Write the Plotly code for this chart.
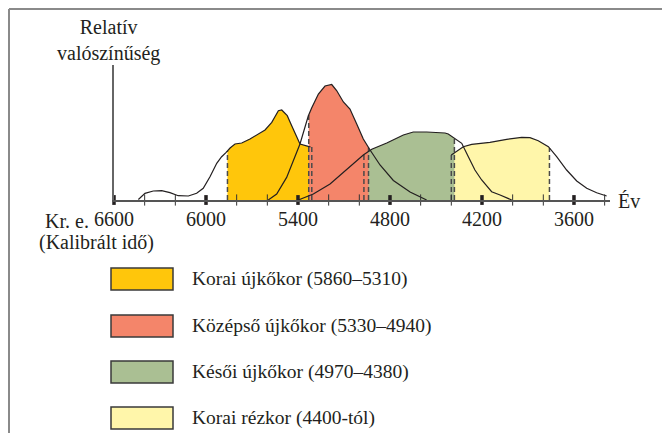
import numpy as np
import plotly.graph_objects as go

# ---------------- data ----------------
# Calibrated years BC (x) and relative probability (arbitrary units, y)
early_neo_years = [6441, 6398, 6344, 6289, 6235, 6181, 6115, 6061, 6018, 5974, 5930, 5898,
                   5870, 5843, 5811, 5767, 5713, 5648, 5615, 5571, 5528, 5506, 5470, 5441,
                   5387, 5333, 5318]
early_neo_prob = [0.5, 6.7, 9.0, 9.3, 7.3, 4.3, 4.0, 6.7, 11.7, 23.3, 36.7, 43.3,
                  47.3, 52.0, 56.0, 57.0, 61.0, 66.6, 70.0, 77.6, 89.3, 90.0, 84.3, 74.3,
                  56.0, 53.6, 53.0]

middle_neo_years = [5594, 5539, 5474, 5387, 5333, 5311, 5267, 5224, 5180, 5148, 5104, 5061,
                    5017, 4974, 4930, 4865, 4778, 4669, 4561]
middle_neo_prob = [0.0, 6.0, 22.6, 56.0, 84.0, 92.0, 106.0, 114.0, 115.5, 109.5, 98.0, 91.0,
                   76.0, 61.0, 50.0, 35.0, 19.5, 8.0, 0.0]

late_neo_years = [5398, 5300, 5191, 5104, 5039, 4974, 4919, 4821, 4713, 4648, 4561, 4441,
                  4420, 4376, 4332, 4289, 4246, 4202, 4137, 4082, 4006]
late_neo_prob = [0.0, 6.0, 16.0, 28.0, 36.0, 45.0, 50.7, 57.0, 65.0, 68.0, 68.0, 67.0,
                 66.0, 61.7, 56.7, 43.3, 30.0, 20.0, 8.3, 5.0, 0.0]

copper_years = [4400, 4383, 4322, 4267, 4148, 4039, 3941, 3887, 3833, 3767, 3713, 3648,
                3582, 3517, 3452, 3387]
copper_prob = [45.0, 46.7, 53.3, 55.7, 57.7, 60.7, 62.7, 62.3, 59.3, 53.3, 43.3, 30.0,
               19.0, 11.7, 7.3, 4.0]

# Shaded period bounds (years BC)
period_labels = ["Korai újkőkor (5860–5310)", "Középső újkőkor (5330–4940)",
                 "Késői újkőkor (4970–4380)", "Korai rézkor (4400-tól)"]
period_starts = [5860, 5330, 4970, 4400]
period_ends = [5310, 4940, 4380, 3760]
period_colors = ["#FFC60B", "#F4856A", "#AABF93", "#FFF6AA"]

major_ticks = [6600, 6000, 5400, 4800, 4200, 3600]
major_tick_text = ["6600", "6000", "5400", "4800", "4200", "3600"]
minor_ticks = [6400, 6200, 5800, 5600, 5200, 5000, 4600, 4400, 4000, 3800, 3400]

curves = [(early_neo_years, early_neo_prob), (middle_neo_years, middle_neo_prob),
          (late_neo_years, late_neo_prob), (copper_years, copper_prob)]

# ---------------- figure ----------------
OFF = 8                      # page body margin
W, H = 662, 425
PLOT_L, PLOT_R, PLOT_T, PLOT_B = 114, 610, 65, 200   # page pixel bounds of plot area
L, T = PLOT_L - OFF, PLOT_T - OFF
R = W - (PLOT_R - OFF)
B = H - (PLOT_B - OFF)
PW = PLOT_R - PLOT_L
PH = PLOT_B - PLOT_T
X0, X1 = 6600, 6600 - PW * 6.522
INK = "#231f20"
FONT = "Liberation Serif, Times New Roman, serif"


def interp(curve, yr):
    xs = np.array(curve[0], dtype=float)[::-1]
    ys = np.array(curve[1], dtype=float)[::-1]
    return float(np.interp(yr, xs, ys))


def px(p):   # page x pixel -> paper
    return (p - PLOT_L) / PW


def py(p):   # page y pixel -> paper
    return (PLOT_B - p) / PH


fig = go.Figure()

# fills: yellow, light yellow, green, red (red/green on top in overlaps)
for i in [0, 3, 2, 1]:
    c = curves[i]
    s, e = period_starts[i], period_ends[i]
    inner = [y for y in c[0] if e < y < s]
    xs = [s] + inner + [e]
    ys = [interp(c, v) for v in xs]
    fig.add_trace(go.Scatter(x=[s] + xs + [e, s], y=[0] + ys + [0, 0], fill="toself",
                             fillcolor=period_colors[i], line=dict(width=0),
                             mode="lines", hoverinfo="skip", showlegend=False))

# dashed boundary lines
for i, c in enumerate(curves):
    for b in (period_starts[i], period_ends[i]):
        fig.add_trace(go.Scatter(x=[b, b], y=[0, interp(c, b)], mode="lines",
                                 line=dict(color="#4a4a4a", width=1.5, dash="5px,3px"),
                                 hoverinfo="skip", showlegend=False))

# probability curves
for c in curves:
    fig.add_trace(go.Scatter(x=c[0], y=c[1], mode="lines",
                             line=dict(color=INK, width=1.2),
                             hoverinfo="skip", showlegend=False))

# axis ticks crossing the axis line
fig.add_trace(go.Scatter(x=minor_ticks, y=[0] * len(minor_ticks), mode="markers",
                         marker=dict(symbol="line-ns", size=8,
                                     line=dict(color="#333", width=1)),
                         cliponaxis=False, hoverinfo="skip", showlegend=False))
fig.add_trace(go.Scatter(x=major_ticks, y=[0] * len(major_ticks), mode="markers",
                         marker=dict(symbol="line-ns", size=7,
                                     line=dict(color=INK, width=3.5)),
                         cliponaxis=False, hoverinfo="skip", showlegend=False))

shapes = []
annotations = []

# outer frame (top and left edges)
shapes.append(dict(type="line", xref="paper", yref="paper", x0=px(9), x1=px(680),
                   y0=py(9), y1=py(9), line=dict(color="#8a8a8a", width=2)))
shapes.append(dict(type="line", xref="paper", yref="paper", x0=px(9), x1=px(9),
                   y0=py(9), y1=py(445), line=dict(color="#8a8a8a", width=2)))

# legend
sw_tops = [268, 315, 361, 407]
for i, lab in enumerate(period_labels):
    t = sw_tops[i]
    shapes.append(dict(type="rect", xref="paper", yref="paper", x0=px(111), x1=px(173),
                       y0=py(t), y1=py(t + 22), fillcolor=period_colors[i],
                       line=dict(color="#3a3a3a", width=1.5)))
    annotations.append(dict(xref="paper", yref="paper", x=px(190), y=py(t + 11),
                            text=lab, showarrow=False, xanchor="left", yanchor="middle",
                            font=dict(family=FONT, size=19.5, color=INK)))

# axis texts
annotations.append(dict(xref="paper", yref="paper", x=px(91), y=py(221), text="Kr. e.",
                        showarrow=False, xanchor="right", yanchor="middle",
                        font=dict(family=FONT, size=20, color=INK)))
annotations.append(dict(xref="paper", yref="paper", x=px(96), y=py(242),
                        text="(Kalibrált idő)", showarrow=False, xanchor="center",
                        yanchor="middle", font=dict(family=FONT, size=20, color=INK)))
annotations.append(dict(xref="paper", yref="paper", x=px(629), y=py(201), text="Év",
                        showarrow=False, xanchor="center", yanchor="middle",
                        font=dict(family=FONT, size=20, color=INK)))
annotations.append(dict(xref="paper", yref="paper", x=px(108), y=py(40),
                        text="Relatív<br>valószínűség", showarrow=False,
                        xanchor="center", yanchor="middle",
                        font=dict(family=FONT, size=20, color=INK)))

fig.update_layout(
    width=W, height=H, margin=dict(l=L, r=R, t=T, b=B, pad=0),
    paper_bgcolor="white", plot_bgcolor="white",
    shapes=shapes, annotations=annotations, showlegend=False,
    font=dict(family=FONT, color=INK),
    xaxis=dict(range=[X0, X1], showgrid=False, zeroline=False, showline=True,
               linecolor="#555", linewidth=1.5, tickvals=major_ticks,
               ticktext=major_tick_text, ticks="", ticklabelstandoff=0,
               tickfont=dict(family=FONT, size=20, color=INK)),
    yaxis=dict(range=[0, PH], showgrid=False, zeroline=False, showline=True,
               linecolor="#666", linewidth=1.5, showticklabels=False, ticks=""),
)

fig.write_html("out.html")
